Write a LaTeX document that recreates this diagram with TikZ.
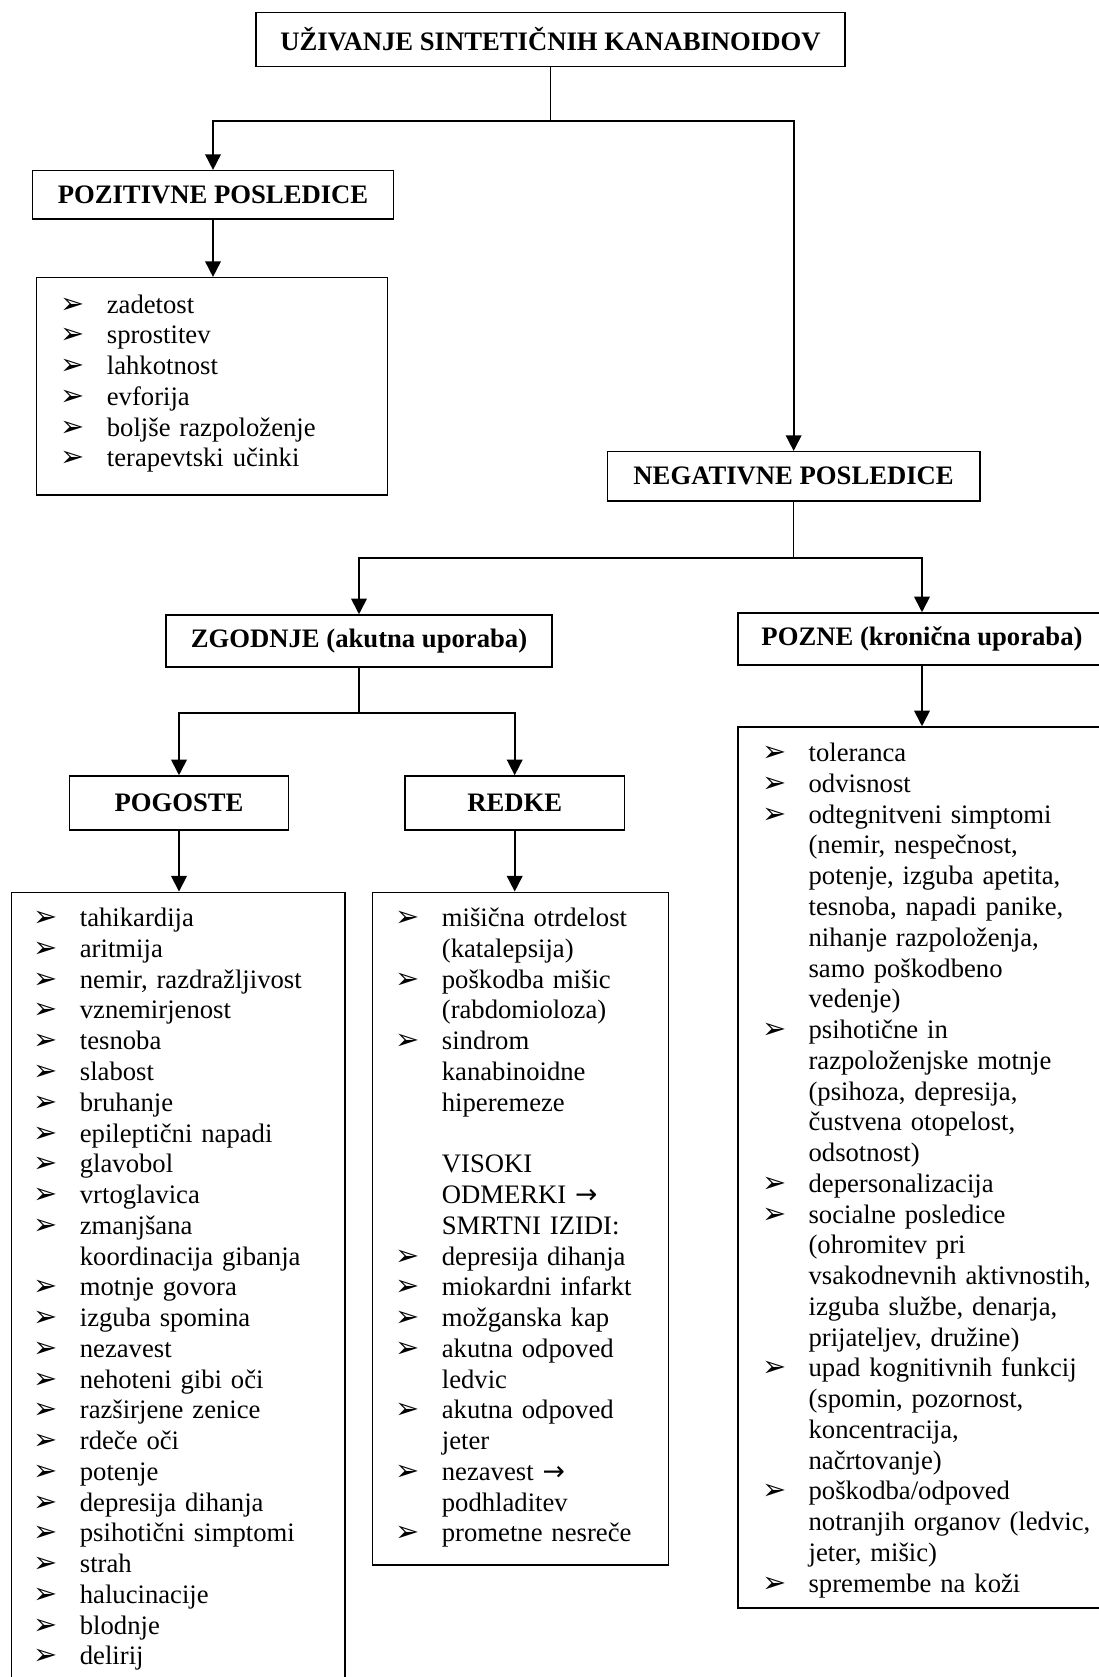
\documentclass[tikz,border=0pt]{standalone}
\usepackage{fontspec}
\setmainfont{Liberation Serif}
\newfontfamily\dejavu{DejaVu Sans}
\usetikzlibrary{arrows.meta}

\newlength{\itind}
\setlength{\itind}{20.9pt}
\newcommand{\bul}{{\dejavu\fontsize{13}{13}\selectfont ➢}}
\newcommand{\rarr}{{\dejavu →}}
\newcommand{\nl}{\newline}
\newcommand{\pitem}[1]{{\hangindent=\itind\hangafter=1\noindent\makebox[\itind][l]{\bul}#1\par}}
\newcommand{\pline}[1]{{\hangindent=\itind\hangafter=0\noindent#1\par}}

\tikzset{
	head/.style={draw, line width=0.7pt, inner sep=0pt, font=\bfseries\fontsize{12}{14}\selectfont},
	listbox/.style={draw, line width=0.7pt, inner sep=0pt},
	listtext/.style={anchor=base west, inner sep=0pt, text width=175pt, font=\fontsize{12}{13.84}\selectfont},
	arr/.style={-{Triangle[length=7pt,width=7pt]}, line width=0.8pt},
}

\begin{document}
\begin{tikzpicture}[x=0.45pt, y=-0.45pt]
	\useasboundingbox (0,0) rectangle (1099,1677);
	\clip (0,0) rectangle (1099,1677);
	% boxes
	\node[head, minimum width=265.05pt, minimum height=24.48pt] (top) at (550.5,39.5) {UŽIVANJE SINTETIČNIH KANABINOIDOV};
	\node[head, minimum width=162.27pt, minimum height=21.74pt] (poz) at (213,194.85) {POZITIVNE POSLEDICE};
	\node[listbox, minimum width=157.95pt, minimum height=97.79pt] (pozl) at (212.2,386.35) {};
	\node[head, minimum width=167.72pt, minimum height=22.19pt] (neg) at (793.65,476.35) {NEGATIVNE POSLEDICE};
	\node[head, minimum width=173.7pt, minimum height=23.4pt] (zgod) at (359,641) {ZGODNJE (akutna uporaba)};
	\node[head, minimum width=165.6pt, minimum height=23.4pt] (pozne) at (922,639) {POZNE (kronična uporaba)};
	\node[head, minimum width=98.69pt, minimum height=24.3pt] (pogoste) at (179,803) {POGOSTE};
	\node[head, minimum width=98.73pt, minimum height=24.3pt] (redke) at (514.7,803) {REDKE};
	\node[listbox, minimum width=149.99pt, minimum height=363.47pt] (pogl) at (178.35,1296.15) {};
	\node[listbox, minimum width=133.02pt, minimum height=302.72pt] (redl) at (520.5,1228.65) {};
	\node[listbox, minimum width=167.4pt, minimum height=396.45pt] (poznel) at (924,1167.5) {};

	% list texts
	\node[listtext] (pozt) at (60,313) {%
		\pitem{zadetost}
		\pitem{sprostitev}
		\pitem{lahkotnost}
		\pitem{evforija}
		\pitem{boljše razpoloženje}
		\pitem{terapevtski učinki}};
	\node[listtext] (pogt) at (33,926.7) {%
		\pitem{tahikardija}
		\pitem{aritmija}
		\pitem{nemir, razdražljivost}
		\pitem{vznemirjenost}
		\pitem{tesnoba}
		\pitem{slabost}
		\pitem{bruhanje}
		\pitem{epileptični napadi}
		\pitem{glavobol}
		\pitem{vrtoglavica}
		\pitem{zmanjšana\nl koordinacija gibanja}
		\pitem{motnje govora}
		\pitem{izguba spomina}
		\pitem{nezavest}
		\pitem{nehoteni gibi oči}
		\pitem{razširjene zenice}
		\pitem{rdeče oči}
		\pitem{potenje}
		\pitem{depresija dihanja}
		\pitem{psihotični simptomi}
		\pitem{strah}
		\pitem{halucinacije}
		\pitem{blodnje}
		\pitem{delirij}};
	\node[listtext] (redt) at (395,926.7) {%
		\pitem{mišična otrdelost\nl (katalepsija)}
		\pitem{poškodba mišic\nl (rabdomioloza)}
		\pitem{sindrom\nl kanabinoidne\nl hiperemeze}
		\mbox{}\par
		\pline{VISOKI\nl ODMERKI \rarr\nl SMRTNI IZIDI:}
		\pitem{depresija dihanja}
		\pitem{miokardni infarkt}
		\pitem{možganska kap}
		\pitem{akutna odpoved\nl ledvic}
		\pitem{akutna odpoved\nl jeter}
		\pitem{nezavest \rarr\nl podhladitev}
		\pitem{prometne nesreče}};
	\node[listtext] (poznet) at (761.7,761.7) {%
		\pitem{toleranca}
		\pitem{odvisnost}
		\pitem{odtegnitveni simptomi\nl (nemir, nespečnost,\nl potenje, izguba apetita,\nl tesnoba, napadi panike,\nl nihanje razpoloženja,\nl samo poškodbeno\nl vedenje)}
		\pitem{psihotične in\nl razpoloženjske motnje\nl (psihoza, depresija,\nl čustvena otopelost,\nl odsotnost)}
		\pitem{depersonalizacija}
		\pitem{socialne posledice\nl (ohromitev pri\nl vsakodnevnih aktivnostih,\nl izguba službe, denarja,\nl prijateljev, družine)}
		\pitem{upad kognitivnih funkcij\nl (spomin, pozornost,\nl koncentracija,\nl načrtovanje)}
		\pitem{poškodba/odpoved\nl notranjih organov (ledvic,\nl jeter, mišic)}
		\pitem{spremembe na koži}};

	% connectors
	\coordinate (j1) at (550.5,120.7);
	\coordinate (j2) at (793.65,558.3);
	\coordinate (j3) at (359,713.3);
	\draw[line width=0.6pt] (top) -- (j1);
	\draw[arr] (j1) -| (poz);
	\draw[arr] (j1) -| (neg);
	\draw[arr] (poz.south) -- (poz.south |- pozl.north);
	\draw[line width=0.6pt] (neg) -- (j2);
	\draw[arr] (j2) -| (zgod);
	\draw[arr] (j2) -| (pozne);
	\draw[arr] (pozne.south) -- (pozne.south |- poznel.north);
	\draw[line width=0.6pt] (zgod) -- (j3);
	\draw[arr] (j3) -| (pogoste);
	\draw[arr] (j3) -| (redke);
	\draw[arr] (pogoste.south) -- (pogoste.south |- pogl.north);
	\draw[arr] (redke.south) -- (redke.south |- redl.north);
\end{tikzpicture}
\end{document}
